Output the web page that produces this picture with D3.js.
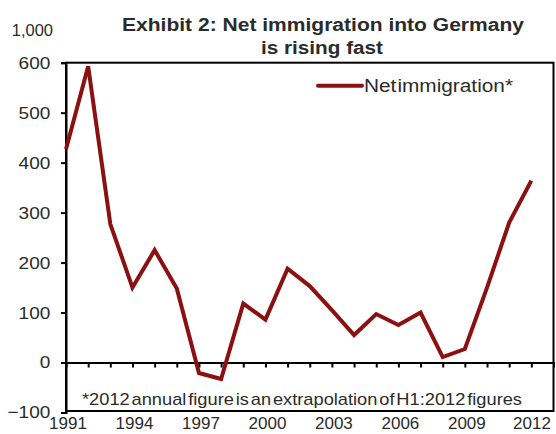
<!DOCTYPE html>
<html>
<head>
<meta charset="utf-8">
<script src="https://cdn.jsdelivr.net/npm/d3@7"></script>
<style>
  body { margin: 0; background: #fff; }
  text { font-family: "Liberation Sans", Arial, sans-serif; fill: #2b2b2b; }
</style>
</head>
<body>
<svg id="chart" width="556" height="434"></svg>
<script>
// Net immigration into Germany, thousands
const years = [1991, 1992, 1993, 1994, 1995, 1996, 1997, 1998, 1999, 2000, 2001,
               2002, 2003, 2004, 2005, 2006, 2007, 2008, 2009, 2010, 2011, 2012];
const netImmigration = [427, 593, 277, 150, 225, 148, -21, -33, 118, 86, 188,
                        153, 105, 55, 97, 75, 100, 11, 27, 150, 280, 364];
const yTicks = [-100, 0, 100, 200, 300, 400, 500, 600];
const xTickLabels = [1991, 1994, 1997, 2000, 2003, 2006, 2009, 2012];
const strayTopLabel = '1,000';
const titleLines = ['Exhibit 2: Net immigration into Germany', 'is rising fast'];
const legendLabel = 'Net immigration*';
const footnote = '*2012 annual figure is an extrapolation of H1:2012 figures';

const red = '#8b1111';
const svg = d3.select('#chart');

const x = d3.scaleLinear().domain([1991, 2013]).range([66, 553.5]);
const y = d3.scaleLinear().domain([-100, 600]).range([412.5, 62.7]);

// titre
svg.append('text').attr('x', 323).attr('y', 31)
    .attr('text-anchor', 'middle').style('font-weight', 'bold').style('font-size', '17.5px')
    .attr('textLength', 402).attr('lengthAdjust', 'spacingAndGlyphs')
    .text(titleLines[0]);
svg.append('text').attr('x', 322).attr('y', 54)
    .attr('text-anchor', 'middle').style('font-weight', 'bold').style('font-size', '17.5px')
    .attr('textLength', 122).attr('lengthAdjust', 'spacingAndGlyphs')
    .text(titleLines[1]);

// cadre
svg.append('rect')
    .attr('x', x(1991)).attr('y', y(600))
    .attr('width', x(2013) - x(1991)).attr('height', y(-100) - y(600) - 1.5)
    .attr('fill', 'none').attr('stroke', '#000').attr('stroke-width', 2);

// axe Y
const yAxis = svg.append('g')
    .attr('transform', `translate(${x(1991)},0)`)
    .call(d3.axisLeft(y).tickValues(yTicks).tickSize(5).tickPadding(9).tickFormat(d3.format('d')));
yAxis.select('.domain').attr('stroke-width', 2);
yAxis.selectAll('.tick line').attr('stroke-width', 2);
yAxis.selectAll('text').style('font-size', '17px').attr('fill', '#2b2b2b')
    .attr('transform', 'scale(1.12,1)');

svg.append('text').attr('x', 53).attr('y', 35.5)
    .attr('text-anchor', 'end').style('font-size', '16.5px')
    .text(strayTopLabel);

// ligne zéro avec graduations annuelles
const xAxis = svg.append('g')
    .attr('transform', `translate(0,${y(0)})`)
    .call(d3.axisBottom(x).tickValues(years.slice(1)).tickSize(5).tickFormat(''));
xAxis.select('.domain').attr('stroke-width', 2);
xAxis.selectAll('.tick line').attr('stroke-width', 2);

// étiquettes des années, en bas
svg.append('g').selectAll('text')
    .data(xTickLabels)
    .join('text')
    .attr('x', d => Math.min(x(d) + 2, 532))
    .attr('y', 429)
    .attr('text-anchor', 'middle')
    .style('font-size', '17px')
    .text(d => d);

// série
const line = d3.line().x((d, i) => x(years[i])).y(d => y(d));
svg.append('path')
    .datum(netImmigration)
    .attr('fill', 'none')
    .attr('stroke', red)
    .attr('stroke-width', 4)
    .attr('stroke-linejoin', 'miter')
    .attr('d', line);

// légende
svg.append('line')
    .attr('x1', 318).attr('x2', 362).attr('y1', 85.7).attr('y2', 85.7)
    .attr('stroke', red).attr('stroke-width', 4).attr('stroke-linecap', 'round');
svg.append('text').attr('x', 364).attr('y', 92)
    .style('font-size', '17.5px').style('word-spacing', '-4px')
    .attr('textLength', 149).attr('lengthAdjust', 'spacingAndGlyphs')
    .text(legendLabel);

// note
svg.append('text').attr('x', 82).attr('y', 405)
    .style('font-size', '17px').style('word-spacing', '-3px')
    .attr('textLength', 440).attr('lengthAdjust', 'spacingAndGlyphs')
    .text(footnote);
</script>
</body>
</html>
